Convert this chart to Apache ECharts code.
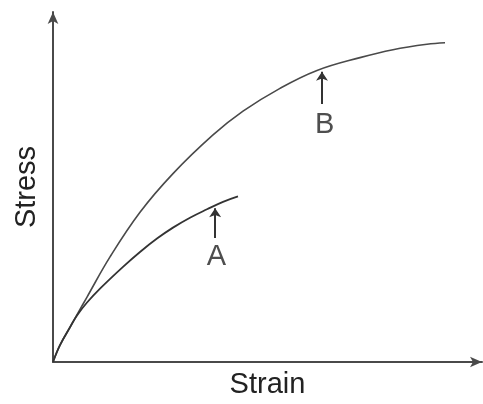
<!DOCTYPE html>
<html>
<head>
<meta charset="utf-8">
<script src="https://cdn.jsdelivr.net/npm/echarts@6/dist/echarts.min.js"></script>
<style>html,body{margin:0;padding:0;background:#fff}#c{width:483px;height:404px}</style>
</head>
<body>
<div id="c"></div>
<script>
// Curve B (larger)
const strainB = [0, 1.63, 3.96, 6.29, 7.93, 13.29, 20.28, 27.97, 37.30, 44.29, 52.91, 61.54, 71.56, 79.25, 87.18, 91.38];
const stressB = [0, 4.82, 9.92, 15.01, 18.56, 30.03, 42.78, 53.82, 64.87, 71.67, 78.19, 83.29, 86.97, 89.24, 90.79, 91.22];
// Curve A (shorter)
const strainA = [0, 1.63, 3.96, 5.59, 7.93, 11.19, 16.32, 20.28, 24.24, 27.97, 31.93, 35.90, 39.63, 43.12];
const stressA = [0, 4.82, 9.92, 13.31, 17.00, 21.25, 27.20, 31.44, 35.27, 38.39, 41.22, 43.63, 45.75, 47.31];
// Arrow markers: [x, tailY, tipY]
const arrowA = [37.8, 35.4, 43.9];
const arrowB = [62.7, 73.7, 82.9];
// Labels: [x, y, text]
const labelA = [38.1, 29.9, 'A'];
const labelB = [63.3, 67.8, 'B'];

const lineColor = '#4a4a4a';
const chart = echarts.init(document.getElementById('c'));
const zip = (xs, ys) => xs.map((x, i) => [x, ys[i]]);
chart.setOption({
  animation: false,
  grid: { left: 53, right: 1, top: 12, bottom: 39 },
  xAxis: {
    type: 'value', min: 0, max: 100,
    name: 'Strain', nameLocation: 'middle', nameGap: 8,
    nameTextStyle: { fontFamily: 'Liberation Sans', fontSize: 29, color: '#222' },
    axisLine: { lineStyle: { color: lineColor, width: 2 }, symbol: ['none', 'arrow'], symbolSize: [8, 12] },
    axisTick: { show: false }, axisLabel: { show: false }, splitLine: { show: false }
  },
  yAxis: {
    type: 'value', min: 0, max: 100,
    name: 'Stress', nameLocation: 'middle', nameGap: 12,
    nameTextStyle: { fontFamily: 'Liberation Sans', fontSize: 29, color: '#222' },
    axisLine: { lineStyle: { color: lineColor, width: 2 }, symbol: ['none', 'arrow'], symbolSize: [8, 12] },
    axisTick: { show: false }, axisLabel: { show: false }, splitLine: { show: false }
  },
  series: [
    { type: 'line', data: zip(strainB, stressB), smooth: 0.4, symbol: 'none', lineStyle: { color: lineColor, width: 1.6 } },
    { type: 'line', data: zip(strainA, stressA), smooth: 0.4, symbol: 'none', lineStyle: { color: '#333', width: 1.8 } },
    {
      type: 'lines', coordinateSystem: 'cartesian2d', silent: true,
      data: [arrowA, arrowB].map(a => ({ coords: [[a[0], a[1]], [a[0], a[2]]] })),
      symbol: ['none', 'arrow'], symbolSize: 9,
      lineStyle: { color: '#333', width: 2, opacity: 1 }
    },
    {
      type: 'scatter', symbolSize: 0, silent: true,
      data: [labelA, labelB].map(l => ({ value: [l[0], l[1]], name: l[2] })),
      label: { show: true, position: 'inside', formatter: p => p.name, fontFamily: 'Liberation Sans', fontSize: 29, color: '#222' }
    }
  ]
});
</script>
</body>
</html>
